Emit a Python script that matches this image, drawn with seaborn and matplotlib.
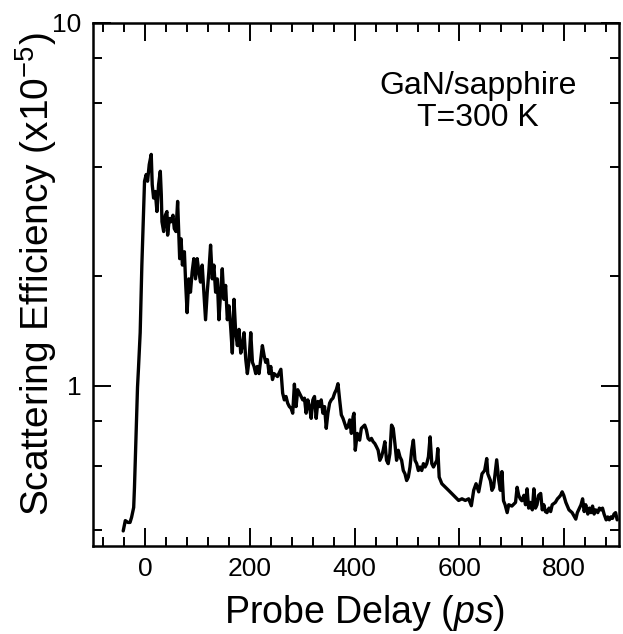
import matplotlib
matplotlib.use("Agg")
import matplotlib.pyplot as plt
from matplotlib.ticker import MultipleLocator, FixedLocator, NullFormatter, FixedFormatter
import seaborn as sns
import pandas as pd

# Probe delay (ps)
delay = [
    -42, -38, -33, -29, -26, -22, -20.5, -18.6, -16.6, -14.7, -12.8, -9.6, -6.4, -3.2, -1.3,
    1.9, 4.5, 7.7, 11.5, 13.4, 16, 19.2, 22.4, 25.5, 28.8, 30.7, 32, 35.2, 38.4, 41.5, 42.8,
    46, 49.1, 53, 55.5, 58.7, 61.9, 63.9, 65.8, 68.5, 71, 74.8, 77.4, 80, 83.2, 86.4, 89.6,
    92.8, 96, 99.2, 102.4, 105.6, 108.8, 112, 115.2, 118.4, 121.5, 124.8, 128, 131.1, 134.4,
    137.6, 140.7, 144, 147.1, 150.3, 153.5, 156.8, 160, 163, 166.3, 169.5, 172.7, 176, 179,
    182.4, 185.5, 188.7, 192, 195, 198.3, 201.5, 204.7, 207.8, 211, 214, 217.3, 220.5, 223.7,
    227, 230, 233.3, 236.5, 239.7, 243, 246, 252.5, 259,
    262.4, 265.6, 268.8, 272, 275.2, 278.4, 281.6, 284.8, 288, 291.2, 294.4, 297.6, 300.8,
    304, 307.2, 310.4, 313.6, 316.8, 320, 323.2, 326.4, 329.6, 332.8, 336, 339.2, 342.4,
    345.6, 348.8, 352, 355.2, 358.4, 361.6, 364.8, 368, 371.2, 374.4, 377.6, 380.8, 384,
    387.2, 390.4, 393.6, 396.8,
    398.6, 401, 404.9, 409.4, 412.6, 415.8, 419, 422.3, 425.5, 428.7, 431.9, 435.1, 438.3,
    441.5, 444.7, 447.9, 451.1, 454.3, 457.5, 460.7, 463.9, 467.1, 470.3, 473.5, 476.7,
    479.9, 483.1, 486.3, 489.5, 492.7, 495.9, 499.1, 502.3, 505.5, 508.7, 511.9, 515.1,
    518.3, 521.5, 524.7, 527.9, 531.1, 534.3, 537.5, 540.7, 543.9, 547.1, 550.3, 553.5,
    556.7, 558.6, 561.2, 566.3, 572.7, 579.1, 585.5, 591.9, 598.3, 604.7, 611.1, 617.5,
    622.6, 627.1, 631.6, 636.7,
    643, 648, 652, 654, 659, 662, 665, 668, 671, 675, 678, 681, 684, 687, 691, 694, 700,
    707, 710, 713, 716, 719, 723, 726, 729, 732, 735, 739, 742, 745, 748, 751, 755, 758,
    761, 764, 767, 771, 774, 777, 783, 787, 790, 793, 796, 799, 803, 806, 809, 815, 822,
    825, 829, 832, 835, 838, 841, 845, 848, 851, 854, 857, 860, 864, 867, 870, 873, 876,
    880, 883, 886, 889, 892, 895, 898, 901,
]

# Scattering efficiency (x10^-5)
efficiency = [
    0.398, 0.425, 0.42, 0.42, 0.434, 0.462, 0.525, 0.65, 0.805, 0.99, 1.12, 1.40, 2.15, 3.02, 3.66,
    3.82, 3.66, 4.07, 4.34, 3.58, 3.29, 3.43, 3.02, 3.58, 3.90, 3.36, 2.83, 2.66, 2.95, 3.02, 2.60,
    2.89, 2.83, 2.95, 2.71, 2.66, 3.22, 2.66, 2.24, 2.54, 2.15, 2.34, 1.89, 1.59, 1.97, 1.81, 2.06,
    2.24, 1.97, 2.24, 2.06, 1.93, 2.15, 1.81, 1.52, 1.81, 2.06, 2.44, 1.97, 2.15, 1.81,
    1.97, 1.52, 1.81, 2.10, 1.73, 1.89, 1.52, 1.66, 1.46, 1.23, 1.73, 1.40, 1.29, 1.43,
    1.23, 1.29, 1.40, 1.18, 1.08, 1.18, 1.40, 1.16, 1.13, 1.08, 1.13, 1.08, 1.18, 1.29,
    1.21, 1.16, 1.18, 1.08, 1.13, 1.04, 1.08, 1.06, 1.11,
    0.954, 0.914, 0.934, 0.895, 0.876, 0.867, 0.84, 1.01, 0.876, 0.975, 0.954, 0.934, 0.914,
    0.924, 0.84, 0.914, 0.876, 0.813, 0.914, 0.934, 0.813, 0.905, 0.876, 0.914, 0.84, 0.876,
    0.763, 0.84, 0.895, 0.914, 0.924, 0.954, 0.975, 1.013, 0.914, 0.831, 0.813, 0.788, 0.763,
    0.771, 0.805, 0.739, 0.822,
    0.84, 0.664, 0.739, 0.708, 0.763, 0.771, 0.779, 0.755, 0.716, 0.708, 0.716, 0.701, 0.693,
    0.679, 0.664, 0.623, 0.637, 0.664, 0.701, 0.623, 0.61, 0.65, 0.779, 0.763, 0.693,
    0.623, 0.664, 0.637, 0.623, 0.584, 0.572, 0.548, 0.56, 0.597, 0.664, 0.708, 0.623,
    0.61, 0.584, 0.597, 0.584, 0.61, 0.597, 0.61, 0.637, 0.723, 0.61, 0.597, 0.61,
    0.623, 0.671, 0.56, 0.537, 0.526, 0.515, 0.504, 0.493, 0.483, 0.488, 0.483, 0.488,
    0.467, 0.515, 0.537, 0.51,
    0.572, 0.584, 0.63, 0.572, 0.548, 0.515, 0.525, 0.572, 0.625, 0.548, 0.515, 0.58, 0.482, 0.47, 0.447, 0.47, 0.466,
    0.477, 0.525, 0.499, 0.488, 0.482, 0.499, 0.47, 0.52, 0.46, 0.477, 0.455, 0.52, 0.46, 0.47, 0.499, 0.505, 0.455,
    0.47, 0.45, 0.447, 0.46, 0.45, 0.47, 0.477, 0.488, 0.493, 0.499, 0.51, 0.499, 0.477, 0.466, 0.455, 0.447, 0.429,
    0.447, 0.46, 0.47, 0.488, 0.45, 0.47, 0.443, 0.46, 0.447, 0.466, 0.443, 0.455, 0.447, 0.46, 0.455, 0.46, 0.443,
    0.427, 0.435, 0.427, 0.435, 0.431, 0.443, 0.447, 0.427,
]

x_major = [0, 200, 400, 600, 800]
x_major_labels = ["0", "200", "400", "600", "800"]
y_major = [1, 10]
y_major_labels = ["1", "10"]
y_minor = [0.4, 0.6, 0.8, 2, 4, 6, 8]

sns.set_style("ticks")
plt.rcParams["font.family"] = ["Liberation Sans", "DejaVu Sans"]
plt.rcParams["mathtext.fontset"] = "custom"
plt.rcParams["mathtext.rm"] = "Liberation Sans"
plt.rcParams["mathtext.it"] = "Liberation Sans:italic"
plt.rcParams["text.color"] = "black"
plt.rcParams["axes.labelcolor"] = "black"

df = pd.DataFrame({"delay": delay, "eff": efficiency})

fig = plt.figure(figsize=(6.23, 6.34), dpi=100)
ax = fig.add_axes([0.149, 0.139, 0.845, 0.825])
sns.lineplot(data=df, x="delay", y="eff", ax=ax, color="black", linewidth=2.4,
             sort=False, estimator=None)

ax.set_yscale("log")
ax.set_xlim(-100, 905)
ax.set_ylim(0.362, 10)

ax.xaxis.set_major_locator(FixedLocator(x_major))
ax.xaxis.set_major_formatter(FixedFormatter(x_major_labels))
ax.xaxis.set_minor_locator(MultipleLocator(40))
ax.yaxis.set_major_locator(FixedLocator(y_major))
ax.yaxis.set_major_formatter(FixedFormatter(y_major_labels))
ax.yaxis.set_minor_locator(FixedLocator(y_minor))
ax.yaxis.set_minor_formatter(NullFormatter())

ax.tick_params(which="both", direction="in", top=True, right=True, width=1.4,
               color="black", labelsize=19, labelcolor="black")
ax.tick_params(which="major", length=13, pad=8)
ax.tick_params(which="minor", length=6.5)
for s in ax.spines.values():
    s.set_linewidth(1.8)
    s.set_color("black")

ax.set_xlabel("Probe Delay ($\\mathit{ps}$)", fontsize=27, color="black")
ax.set_ylabel("Scattering Efficiency (x10$^{-5}$)", fontsize=28, color="black")
ax.xaxis.label.set_va("center")
ax.yaxis.label.set_va("center")
ax.xaxis.set_label_coords(0.517, -0.128)
ax.yaxis.set_label_coords(-0.108, 0.52)

ax.text(0.732, 0.848, "GaN/sapphire\nT=300 K", transform=ax.transAxes,
        ha="center", va="center", fontsize=23, linespacing=1.1, color="black")

fig.savefig("out.png", dpi=100)
